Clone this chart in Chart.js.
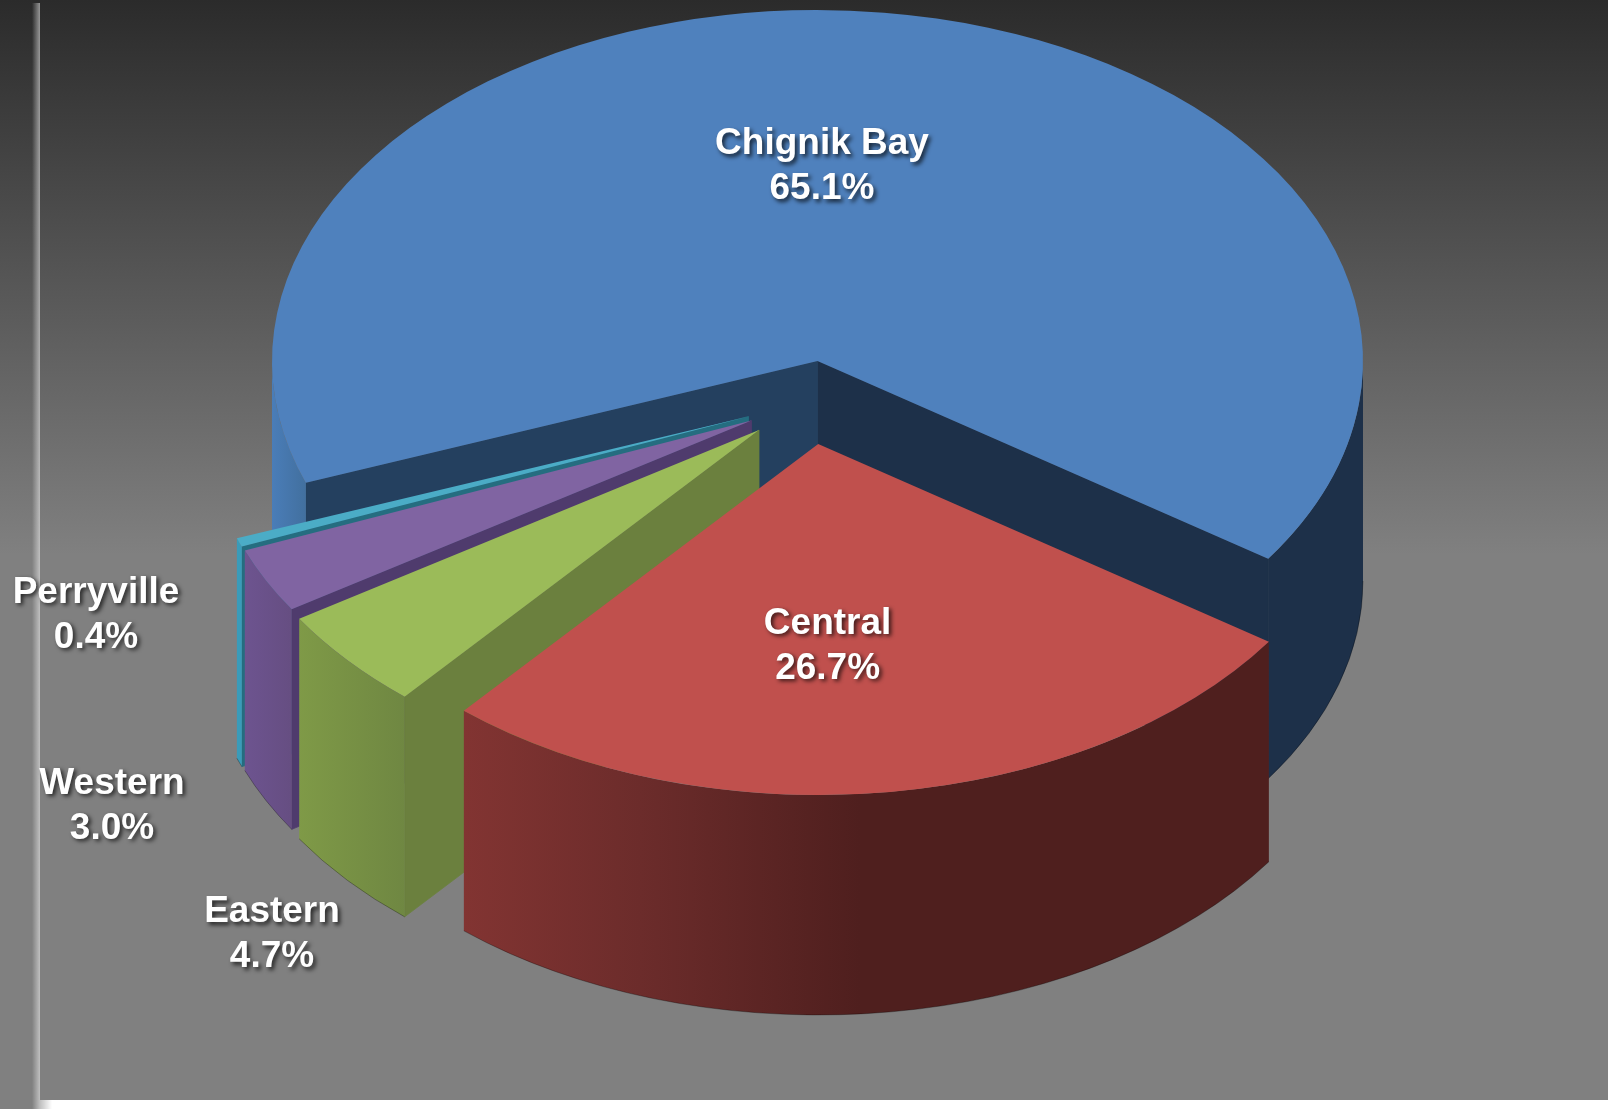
<!DOCTYPE html>
<html>
<head>
<meta charset="utf-8">
<style>
html,body{margin:0;padding:0;background:#808080;overflow:hidden}
canvas{display:block}
</style>
<script src="https://cdn.jsdelivr.net/npm/chart.js@4"></script>
</head>
<body>
<canvas id="c" width="1608" height="1109"></canvas>
<script>
// Values
const categories = ['Chignik Bay', 'Central', 'Eastern', 'Western', 'Perryville'];
const shares = [65.1, 26.7, 4.7, 3.0, 0.4];

// Styles
const topColors = ['#4f81bd', '#c0504d', '#9bbb59', '#8064a2', '#4bacc6'];
const startCutColors = ['#24405f', '#3a1816', '#6b803e', '#4f3b6d', '#256d80'];
const endCutColors = ['#1d3049', '#3a1816', '#6b803e', '#4f3b6d', '#256d80'];
const wallStops = [
  [[272, '#4a7db8'], [305, '#42709f'], [1000, '#1d3049']],
  [[464, '#823432'], [640, '#6c2c2b'], [860, '#4f1f1e']],
  [[298, '#7f9a47'], [405, '#6f8742']],
  [[243, '#6d5490'], [291, '#664e82']],
  [[236, '#3a9bb9'], [242, '#3a9bb9']]
];

// Layout of the tilted pie
const pieCentre = {x: 817.5, y: 361};
const tilt = 0.6434;
const depth = 220;
const pieRadius = 545.5;
const explode = [[0, 0], [0.7, 83], [-58.5, 69], [-66, 59.5], [-69, 55.5]];
const paintOrder = [0, 4, 3, 2, 1];
const labelCentres = [[822, 144], [827.6, 623.5], [272, 912], [112, 783.5], [96, 592.5]];
const lineGap = 45;

function wallFill(ctx, i) {
  const g = ctx.createLinearGradient(0, 0, 1608, 0);
  wallStops[i].forEach(s => g.addColorStop(s[0] / 1608, s[1]));
  return g;
}

function drawSlice(ctx, el, i) {
  const cx = pieCentre.x + explode[i][0];
  const cy = pieCentre.y + explode[i][1];
  const r = el.outerRadius, ry = r * tilt;
  const a = el.startAngle, b = el.endAngle;
  const face = (ang, col) => {
    const px = cx + r * Math.cos(ang), py = cy + ry * Math.sin(ang);
    ctx.beginPath();
    ctx.moveTo(cx, cy);
    ctx.lineTo(px, py);
    ctx.lineTo(px, py + depth);
    ctx.lineTo(cx, cy + depth);
    ctx.closePath();
    ctx.fillStyle = col;
    ctx.fill();
    ctx.strokeStyle = col;
    ctx.lineWidth = 0.8;
    ctx.stroke();
  };
  // cut faces turned towards the viewer
  if (Math.cos(b) > 0) face(b, endCutColors[i]);
  if (-Math.cos(a) > 0) face(a, startCutColors[i]);
  // curved outer wall, front half of the rim only
  for (let n = -1; n <= 2; n++) {
    const s = Math.max(a, n * 2 * Math.PI);
    const e = Math.min(b, n * 2 * Math.PI + Math.PI);
    if (e <= s) continue;
    ctx.beginPath();
    ctx.ellipse(cx, cy, r, ry, 0, s, e);
    ctx.ellipse(cx, cy + depth, r, ry, 0, e, s, true);
    ctx.closePath();
    ctx.fillStyle = wallFill(ctx, i);
    ctx.fill();
    ctx.beginPath();
    ctx.ellipse(cx, cy + depth, r, ry, 0, s, e);
    ctx.strokeStyle = 'rgba(0,0,0,0.3)';
    ctx.lineWidth = 1;
    ctx.stroke();
  }
  // top face: the library's own arc element, squashed
  ctx.save();
  ctx.translate(cx, cy);
  ctx.scale(1, tilt);
  ctx.translate(-el.x, -el.y);
  el.draw(ctx);
  ctx.restore();
}

const backdrop = {
  id: 'backdrop',
  beforeDraw(chart) {
    const ctx = chart.ctx;
    const g = ctx.createLinearGradient(0, 0, 0, 1109);
    g.addColorStop(0, '#2b2b2b');
    g.addColorStop(0.5, '#808080');
    g.addColorStop(1, '#808080');
    ctx.fillStyle = g;
    ctx.fillRect(0, 0, 1608, 1109);
    const v = ctx.createLinearGradient(32, 0, 40, 0);
    v.addColorStop(0, 'rgba(255,255,255,0)');
    v.addColorStop(1, 'rgba(255,255,255,0.5)');
    ctx.fillStyle = v;
    ctx.fillRect(32, 3, 8, 1106);
    const h = ctx.createLinearGradient(40, 0, 52, 0);
    h.addColorStop(0, 'rgba(255,255,255,0.5)');
    h.addColorStop(1, 'rgba(255,255,255,1)');
    ctx.fillStyle = h;
    ctx.fillRect(40, 1100, 1568, 9);
  }
};

const pie3d = {
  id: 'pie3d',
  beforeDatasetsDraw(chart) {
    const ctx = chart.ctx;
    const arcs = chart.getDatasetMeta(0).data;
    paintOrder.forEach(i => drawSlice(ctx, arcs[i], i));
    return false;
  },
  afterDraw(chart) {
    const ctx = chart.ctx;
    ctx.save();
    ctx.font = 'bold 37px "Liberation Sans", Arial, sans-serif';
    ctx.textAlign = 'center';
    ctx.textBaseline = 'middle';
    ctx.fillStyle = '#ffffff';
    ctx.shadowColor = 'rgba(0,0,0,0.7)';
    ctx.shadowBlur = 4;
    ctx.shadowOffsetX = 2.5;
    ctx.shadowOffsetY = 2.5;
    categories.forEach((name, i) => {
      const [x, y] = labelCentres[i];
      ctx.fillText(name, x, y);
      ctx.fillText(shares[i].toFixed(1) + '%', x, y + lineGap);
    });
    ctx.restore();
  }
};

new Chart(document.getElementById('c'), {
  type: 'pie',
  data: {
    labels: categories,
    datasets: [{
      data: shares,
      backgroundColor: topColors,
      borderWidth: 0,
      radius: pieRadius
    }]
  },
  options: {
    responsive: false,
    animation: false,
    rotation: 249.7,
    layout: {padding: 0},
    plugins: {legend: {display: false}, tooltip: {enabled: false}}
  },
  plugins: [backdrop, pie3d]
});
</script>
</body>
</html>
